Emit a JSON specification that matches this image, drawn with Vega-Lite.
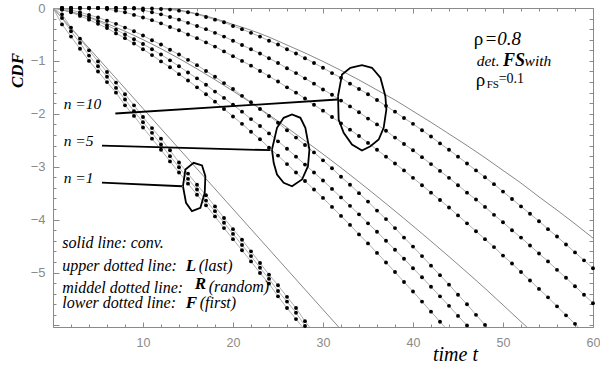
{
"$schema":"https://vega.github.io/schema/vega-lite/v6.json",
"width":540,"height":319,
"autosize":{"type":"none"},
"padding":{"left":53,"top":8,"right":7,"bottom":39},
"background":"white",
"config":{"view":{"stroke":null},"axis":{"grid":false,"domainColor":"#8a8a8a","tickColor":"#8a8a8a","labelColor":"#8a8a8a","labelFont":"Liberation Sans","labelFontSize":12,"domainWidth":1,"tickWidth":1,"labelOverlap":false}},
"datasets":{
"dots":[
{"c":"L10","t":0,"v":0},{"c":"L10","t":1,"v":0},{"c":"L10","t":2,"v":0},{"c":"L10","t":3,"v":0},{"c":"L10","t":4,"v":0},{"c":"L10","t":5,"v":0},{"c":"L10","t":6,"v":0},{"c":"L10","t":7,"v":0},{"c":"L10","t":8,"v":0},{"c":"L10","t":9,"v":0},{"c":"L10","t":10,"v":-0.01},{"c":"L10","t":11,"v":-0.01},{"c":"L10","t":12,"v":-0.02},{"c":"L10","t":13,"v":-0.03},{"c":"L10","t":14,"v":-0.05},{"c":"L10","t":15,"v":-0.08},{"c":"L10","t":16,"v":-0.12},{"c":"L10","t":17,"v":-0.17},{"c":"L10","t":18,"v":-0.22},{"c":"L10","t":19,"v":-0.27},{"c":"L10","t":20,"v":-0.34},{"c":"L10","t":21,"v":-0.40},{"c":"L10","t":22,"v":-0.47},{"c":"L10","t":23,"v":-0.54},{"c":"L10","t":24,"v":-0.62},{"c":"L10","t":25,"v":-0.69},{"c":"L10","t":26,"v":-0.78},{"c":"L10","t":27,"v":-0.86},{"c":"L10","t":28,"v":-0.95},{"c":"L10","t":29,"v":-1.04},{"c":"L10","t":30,"v":-1.13},{"c":"L10","t":31,"v":-1.23},{"c":"L10","t":32,"v":-1.32},{"c":"L10","t":33,"v":-1.43},{"c":"L10","t":34,"v":-1.53},{"c":"L10","t":35,"v":-1.63},{"c":"L10","t":36,"v":-1.74},{"c":"L10","t":37,"v":-1.85},{"c":"L10","t":38,"v":-1.96},{"c":"L10","t":39,"v":-2.08},{"c":"L10","t":40,"v":-2.19},{"c":"L10","t":41,"v":-2.31},{"c":"L10","t":42,"v":-2.43},{"c":"L10","t":43,"v":-2.56},{"c":"L10","t":44,"v":-2.68},{"c":"L10","t":45,"v":-2.81},{"c":"L10","t":46,"v":-2.94},{"c":"L10","t":47,"v":-3.07},{"c":"L10","t":48,"v":-3.20},{"c":"L10","t":49,"v":-3.33},{"c":"L10","t":50,"v":-3.47},{"c":"L10","t":51,"v":-3.61},{"c":"L10","t":52,"v":-3.75},{"c":"L10","t":53,"v":-3.89},{"c":"L10","t":54,"v":-4.03},{"c":"L10","t":55,"v":-4.18},{"c":"L10","t":56,"v":-4.32},{"c":"L10","t":57,"v":-4.47},{"c":"L10","t":58,"v":-4.62},{"c":"L10","t":59,"v":-4.77},{"c":"L10","t":60,"v":-4.92},
{"c":"R10","t":0,"v":0},{"c":"R10","t":1,"v":0},{"c":"R10","t":2,"v":0},{"c":"R10","t":3,"v":0},{"c":"R10","t":4,"v":0},{"c":"R10","t":5,"v":0},{"c":"R10","t":6,"v":0},{"c":"R10","t":7,"v":0},{"c":"R10","t":8,"v":0},{"c":"R10","t":9,"v":-0.01},{"c":"R10","t":10,"v":-0.04},{"c":"R10","t":11,"v":-0.08},{"c":"R10","t":12,"v":-0.12},{"c":"R10","t":13,"v":-0.17},{"c":"R10","t":14,"v":-0.22},{"c":"R10","t":15,"v":-0.28},{"c":"R10","t":16,"v":-0.34},{"c":"R10","t":17,"v":-0.40},{"c":"R10","t":18,"v":-0.47},{"c":"R10","t":19,"v":-0.54},{"c":"R10","t":20,"v":-0.62},{"c":"R10","t":21,"v":-0.70},{"c":"R10","t":22,"v":-0.78},{"c":"R10","t":23,"v":-0.86},{"c":"R10","t":24,"v":-0.95},{"c":"R10","t":25,"v":-1.04},{"c":"R10","t":26,"v":-1.14},{"c":"R10","t":27,"v":-1.23},{"c":"R10","t":28,"v":-1.33},{"c":"R10","t":29,"v":-1.43},{"c":"R10","t":30,"v":-1.54},{"c":"R10","t":31,"v":-1.64},{"c":"R10","t":32,"v":-1.75},{"c":"R10","t":33,"v":-1.86},{"c":"R10","t":34,"v":-1.97},{"c":"R10","t":35,"v":-2.09},{"c":"R10","t":36,"v":-2.20},{"c":"R10","t":37,"v":-2.32},{"c":"R10","t":38,"v":-2.45},{"c":"R10","t":39,"v":-2.57},{"c":"R10","t":40,"v":-2.69},{"c":"R10","t":41,"v":-2.82},{"c":"R10","t":42,"v":-2.95},{"c":"R10","t":43,"v":-3.08},{"c":"R10","t":44,"v":-3.21},{"c":"R10","t":45,"v":-3.35},{"c":"R10","t":46,"v":-3.49},{"c":"R10","t":47,"v":-3.62},{"c":"R10","t":48,"v":-3.76},{"c":"R10","t":49,"v":-3.91},{"c":"R10","t":50,"v":-4.05},{"c":"R10","t":51,"v":-4.20},{"c":"R10","t":52,"v":-4.34},{"c":"R10","t":53,"v":-4.49},{"c":"R10","t":54,"v":-4.64},{"c":"R10","t":55,"v":-4.79},{"c":"R10","t":56,"v":-4.95},{"c":"R10","t":57,"v":-5.10},{"c":"R10","t":58,"v":-5.26},{"c":"R10","t":59,"v":-5.42},{"c":"R10","t":60,"v":-5.58},
{"c":"F10","t":0,"v":0},{"c":"F10","t":1,"v":0},{"c":"F10","t":2,"v":0},{"c":"F10","t":3,"v":0},{"c":"F10","t":4,"v":0},{"c":"F10","t":5,"v":0},{"c":"F10","t":6,"v":-0.02},{"c":"F10","t":7,"v":-0.05},{"c":"F10","t":8,"v":-0.08},{"c":"F10","t":9,"v":-0.13},{"c":"F10","t":10,"v":-0.18},{"c":"F10","t":11,"v":-0.23},{"c":"F10","t":12,"v":-0.29},{"c":"F10","t":13,"v":-0.36},{"c":"F10","t":14,"v":-0.42},{"c":"F10","t":15,"v":-0.50},{"c":"F10","t":16,"v":-0.57},{"c":"F10","t":17,"v":-0.65},{"c":"F10","t":18,"v":-0.73},{"c":"F10","t":19,"v":-0.82},{"c":"F10","t":20,"v":-0.91},{"c":"F10","t":21,"v":-1.00},{"c":"F10","t":22,"v":-1.09},{"c":"F10","t":23,"v":-1.19},{"c":"F10","t":24,"v":-1.29},{"c":"F10","t":25,"v":-1.39},{"c":"F10","t":26,"v":-1.50},{"c":"F10","t":27,"v":-1.60},{"c":"F10","t":28,"v":-1.71},{"c":"F10","t":29,"v":-1.83},{"c":"F10","t":30,"v":-1.94},{"c":"F10","t":31,"v":-2.06},{"c":"F10","t":32,"v":-2.18},{"c":"F10","t":33,"v":-2.30},{"c":"F10","t":34,"v":-2.42},{"c":"F10","t":35,"v":-2.55},{"c":"F10","t":36,"v":-2.68},{"c":"F10","t":37,"v":-2.81},{"c":"F10","t":38,"v":-2.94},{"c":"F10","t":39,"v":-3.07},{"c":"F10","t":40,"v":-3.21},{"c":"F10","t":41,"v":-3.35},{"c":"F10","t":42,"v":-3.49},{"c":"F10","t":43,"v":-3.63},{"c":"F10","t":44,"v":-3.77},{"c":"F10","t":45,"v":-3.92},{"c":"F10","t":46,"v":-4.07},{"c":"F10","t":47,"v":-4.22},{"c":"F10","t":48,"v":-4.37},{"c":"F10","t":49,"v":-4.52},{"c":"F10","t":50,"v":-4.68},{"c":"F10","t":51,"v":-4.83},{"c":"F10","t":52,"v":-4.99},{"c":"F10","t":53,"v":-5.15},{"c":"F10","t":54,"v":-5.31},{"c":"F10","t":55,"v":-5.47},{"c":"F10","t":56,"v":-5.64},{"c":"F10","t":57,"v":-5.81},{"c":"F10","t":58,"v":-5.97},{"c":"F10","t":59,"v":-6.14},
{"c":"L5","t":0,"v":0},{"c":"L5","t":1,"v":-0.01},{"c":"L5","t":2,"v":-0.04},{"c":"L5","t":3,"v":-0.08},{"c":"L5","t":4,"v":-0.13},{"c":"L5","t":5,"v":-0.18},{"c":"L5","t":6,"v":-0.24},{"c":"L5","t":7,"v":-0.30},{"c":"L5","t":8,"v":-0.37},{"c":"L5","t":9,"v":-0.44},{"c":"L5","t":10,"v":-0.52},{"c":"L5","t":11,"v":-0.61},{"c":"L5","t":12,"v":-0.69},{"c":"L5","t":13,"v":-0.79},{"c":"L5","t":14,"v":-0.88},{"c":"L5","t":15,"v":-0.98},{"c":"L5","t":16,"v":-1.08},{"c":"L5","t":17,"v":-1.19},{"c":"L5","t":18,"v":-1.30},{"c":"L5","t":19,"v":-1.42},{"c":"L5","t":20,"v":-1.53},{"c":"L5","t":21,"v":-1.66},{"c":"L5","t":22,"v":-1.78},{"c":"L5","t":23,"v":-1.91},{"c":"L5","t":24,"v":-2.04},{"c":"L5","t":25,"v":-2.17},{"c":"L5","t":26,"v":-2.31},{"c":"L5","t":27,"v":-2.45},{"c":"L5","t":28,"v":-2.59},{"c":"L5","t":29,"v":-2.73},{"c":"L5","t":30,"v":-2.88},{"c":"L5","t":31,"v":-3.03},{"c":"L5","t":32,"v":-3.19},{"c":"L5","t":33,"v":-3.34},{"c":"L5","t":34,"v":-3.50},{"c":"L5","t":35,"v":-3.66},{"c":"L5","t":36,"v":-3.83},{"c":"L5","t":37,"v":-3.99},{"c":"L5","t":38,"v":-4.16},{"c":"L5","t":39,"v":-4.34},{"c":"L5","t":40,"v":-4.51},{"c":"L5","t":41,"v":-4.69},{"c":"L5","t":42,"v":-4.87},{"c":"L5","t":43,"v":-5.05},{"c":"L5","t":44,"v":-5.23},{"c":"L5","t":45,"v":-5.42},{"c":"L5","t":46,"v":-5.60},{"c":"L5","t":47,"v":-5.80},{"c":"L5","t":48,"v":-5.99},{"c":"L5","t":49,"v":-6.18},
{"c":"R5","t":0,"v":0},{"c":"R5","t":1,"v":-0.03},{"c":"R5","t":2,"v":-0.07},{"c":"R5","t":3,"v":-0.12},{"c":"R5","t":4,"v":-0.18},{"c":"R5","t":5,"v":-0.25},{"c":"R5","t":6,"v":-0.33},{"c":"R5","t":7,"v":-0.41},{"c":"R5","t":8,"v":-0.50},{"c":"R5","t":9,"v":-0.59},{"c":"R5","t":10,"v":-0.68},{"c":"R5","t":11,"v":-0.78},{"c":"R5","t":12,"v":-0.88},{"c":"R5","t":13,"v":-0.99},{"c":"R5","t":14,"v":-1.10},{"c":"R5","t":15,"v":-1.22},{"c":"R5","t":16,"v":-1.33},{"c":"R5","t":17,"v":-1.45},{"c":"R5","t":18,"v":-1.58},{"c":"R5","t":19,"v":-1.70},{"c":"R5","t":20,"v":-1.83},{"c":"R5","t":21,"v":-1.96},{"c":"R5","t":22,"v":-2.10},{"c":"R5","t":23,"v":-2.23},{"c":"R5","t":24,"v":-2.37},{"c":"R5","t":25,"v":-2.52},{"c":"R5","t":26,"v":-2.66},{"c":"R5","t":27,"v":-2.81},{"c":"R5","t":28,"v":-2.96},{"c":"R5","t":29,"v":-3.11},{"c":"R5","t":30,"v":-3.26},{"c":"R5","t":31,"v":-3.42},{"c":"R5","t":32,"v":-3.58},{"c":"R5","t":33,"v":-3.74},{"c":"R5","t":34,"v":-3.90},{"c":"R5","t":35,"v":-4.07},{"c":"R5","t":36,"v":-4.23},{"c":"R5","t":37,"v":-4.40},{"c":"R5","t":38,"v":-4.57},{"c":"R5","t":39,"v":-4.74},{"c":"R5","t":40,"v":-4.92},{"c":"R5","t":41,"v":-5.09},{"c":"R5","t":42,"v":-5.27},{"c":"R5","t":43,"v":-5.45},{"c":"R5","t":44,"v":-5.63},{"c":"R5","t":45,"v":-5.82},{"c":"R5","t":46,"v":-6.00},{"c":"R5","t":47,"v":-6.19},
{"c":"F5","t":0,"v":0},{"c":"F5","t":1,"v":-0.03},{"c":"F5","t":2,"v":-0.08},{"c":"F5","t":3,"v":-0.15},{"c":"F5","t":4,"v":-0.22},{"c":"F5","t":5,"v":-0.30},{"c":"F5","t":6,"v":-0.38},{"c":"F5","t":7,"v":-0.48},{"c":"F5","t":8,"v":-0.57},{"c":"F5","t":9,"v":-0.67},{"c":"F5","t":10,"v":-0.78},{"c":"F5","t":11,"v":-0.89},{"c":"F5","t":12,"v":-1.01},{"c":"F5","t":13,"v":-1.12},{"c":"F5","t":14,"v":-1.25},{"c":"F5","t":15,"v":-1.37},{"c":"F5","t":16,"v":-1.50},{"c":"F5","t":17,"v":-1.63},{"c":"F5","t":18,"v":-1.77},{"c":"F5","t":19,"v":-1.91},{"c":"F5","t":20,"v":-2.05},{"c":"F5","t":21,"v":-2.19},{"c":"F5","t":22,"v":-2.34},{"c":"F5","t":23,"v":-2.48},{"c":"F5","t":24,"v":-2.64},{"c":"F5","t":25,"v":-2.79},{"c":"F5","t":26,"v":-2.95},{"c":"F5","t":27,"v":-3.11},{"c":"F5","t":28,"v":-3.27},{"c":"F5","t":29,"v":-3.43},{"c":"F5","t":30,"v":-3.59},{"c":"F5","t":31,"v":-3.76},{"c":"F5","t":32,"v":-3.93},{"c":"F5","t":33,"v":-4.10},{"c":"F5","t":34,"v":-4.28},{"c":"F5","t":35,"v":-4.45},{"c":"F5","t":36,"v":-4.63},{"c":"F5","t":37,"v":-4.81},{"c":"F5","t":38,"v":-4.99},{"c":"F5","t":39,"v":-5.18},{"c":"F5","t":40,"v":-5.36},{"c":"F5","t":41,"v":-5.55},{"c":"F5","t":42,"v":-5.74},{"c":"F5","t":43,"v":-5.93},{"c":"F5","t":44,"v":-6.12},
{"c":"L1","t":0,"v":0},{"c":"L1","t":1,"v":-0.12},{"c":"L1","t":2,"v":-0.37},{"c":"L1","t":3,"v":-0.58},{"c":"L1","t":4,"v":-0.80},{"c":"L1","t":5,"v":-1.01},{"c":"L1","t":6,"v":-1.21},{"c":"L1","t":7,"v":-1.41},{"c":"L1","t":8,"v":-1.63},{"c":"L1","t":9,"v":-1.84},{"c":"L1","t":10,"v":-2.06},{"c":"L1","t":11,"v":-2.27},{"c":"L1","t":12,"v":-2.47},{"c":"L1","t":13,"v":-2.69},{"c":"L1","t":14,"v":-2.92},{"c":"L1","t":15,"v":-3.13},{"c":"L1","t":16,"v":-3.34},{"c":"L1","t":17,"v":-3.54},{"c":"L1","t":18,"v":-3.75},{"c":"L1","t":19,"v":-3.97},{"c":"L1","t":20,"v":-4.18},{"c":"L1","t":21,"v":-4.38},{"c":"L1","t":22,"v":-4.60},{"c":"L1","t":23,"v":-4.82},{"c":"L1","t":24,"v":-5.04},{"c":"L1","t":25,"v":-5.24},{"c":"L1","t":26,"v":-5.46},{"c":"L1","t":27,"v":-5.67},{"c":"L1","t":28,"v":-5.92},{"c":"L1","t":29,"v":-6.14},
{"c":"R1","t":0,"v":0},{"c":"R1","t":1,"v":-0.19},{"c":"R1","t":2,"v":-0.44},{"c":"R1","t":3,"v":-0.66},{"c":"R1","t":4,"v":-0.90},{"c":"R1","t":5,"v":-1.10},{"c":"R1","t":6,"v":-1.30},{"c":"R1","t":7,"v":-1.51},{"c":"R1","t":8,"v":-1.73},{"c":"R1","t":9,"v":-1.95},{"c":"R1","t":10,"v":-2.16},{"c":"R1","t":11,"v":-2.36},{"c":"R1","t":12,"v":-2.58},{"c":"R1","t":13,"v":-2.80},{"c":"R1","t":14,"v":-3.01},{"c":"R1","t":15,"v":-3.23},{"c":"R1","t":16,"v":-3.43},{"c":"R1","t":17,"v":-3.64},{"c":"R1","t":18,"v":-3.84},{"c":"R1","t":19,"v":-4.06},{"c":"R1","t":20,"v":-4.27},{"c":"R1","t":21,"v":-4.48},{"c":"R1","t":22,"v":-4.69},{"c":"R1","t":23,"v":-4.91},{"c":"R1","t":24,"v":-5.12},{"c":"R1","t":25,"v":-5.35},{"c":"R1","t":26,"v":-5.55},{"c":"R1","t":27,"v":-5.76},{"c":"R1","t":28,"v":-6.01},{"c":"R1","t":29,"v":-6.22},
{"c":"F1","t":0,"v":0},{"c":"F1","t":1,"v":-0.31},{"c":"F1","t":2,"v":-0.54},{"c":"F1","t":3,"v":-0.77},{"c":"F1","t":4,"v":-1.00},{"c":"F1","t":5,"v":-1.20},{"c":"F1","t":6,"v":-1.40},{"c":"F1","t":7,"v":-1.60},{"c":"F1","t":8,"v":-1.84},{"c":"F1","t":9,"v":-2.04},{"c":"F1","t":10,"v":-2.26},{"c":"F1","t":11,"v":-2.47},{"c":"F1","t":12,"v":-2.68},{"c":"F1","t":13,"v":-2.90},{"c":"F1","t":14,"v":-3.11},{"c":"F1","t":15,"v":-3.32},{"c":"F1","t":16,"v":-3.53},{"c":"F1","t":17,"v":-3.73},{"c":"F1","t":18,"v":-3.94},{"c":"F1","t":19,"v":-4.16},{"c":"F1","t":20,"v":-4.37},{"c":"F1","t":21,"v":-4.58},{"c":"F1","t":22,"v":-4.79},{"c":"F1","t":23,"v":-5.01},{"c":"F1","t":24,"v":-5.21},{"c":"F1","t":25,"v":-5.45},{"c":"F1","t":26,"v":-5.67},{"c":"F1","t":27,"v":-5.88},{"c":"F1","t":28,"v":-6.09}
],
"conv":[
{"c":"c10","t":0,"v":0},{"c":"c10","t":10,"v":0},{"c":"c10","t":12,"v":0},{"c":"c10","t":14,"v":-0.04},{"c":"c10","t":16,"v":-0.11},{"c":"c10","t":18,"v":-0.20},{"c":"c10","t":20,"v":-0.31},{"c":"c10","t":22,"v":-0.42},{"c":"c10","t":24,"v":-0.55},{"c":"c10","t":26,"v":-0.70},{"c":"c10","t":28,"v":-0.85},{"c":"c10","t":30,"v":-1.01},{"c":"c10","t":32,"v":-1.18},{"c":"c10","t":34,"v":-1.36},{"c":"c10","t":36,"v":-1.55},{"c":"c10","t":38,"v":-1.74},{"c":"c10","t":40,"v":-1.95},{"c":"c10","t":42,"v":-2.16},{"c":"c10","t":44,"v":-2.38},{"c":"c10","t":46,"v":-2.60},{"c":"c10","t":48,"v":-2.83},{"c":"c10","t":50,"v":-3.07},{"c":"c10","t":52,"v":-3.31},{"c":"c10","t":54,"v":-3.57},{"c":"c10","t":56,"v":-3.82},{"c":"c10","t":58,"v":-4.08},{"c":"c10","t":60,"v":-4.35},
{"c":"c5","t":0,"v":0},{"c":"c5","t":4,"v":-0.17},{"c":"c5","t":8,"v":-0.44},{"c":"c5","t":12,"v":-0.77},{"c":"c5","t":16,"v":-1.15},{"c":"c5","t":20,"v":-1.57},{"c":"c5","t":24,"v":-2.02},{"c":"c5","t":28,"v":-2.51},{"c":"c5","t":32,"v":-3.02},{"c":"c5","t":36,"v":-3.56},{"c":"c5","t":40,"v":-4.12},{"c":"c5","t":44,"v":-4.70},{"c":"c5","t":48,"v":-5.30},{"c":"c5","t":52,"v":-5.93},{"c":"c5","t":54,"v":-6.24},
{"c":"c1","t":0,"v":0},{"c":"c1","t":10,"v":-1.9},{"c":"c1","t":20,"v":-3.8},{"c":"c1","t":33,"v":-6.27}
],
"shapes":[
{"s":"e10","i":0,"t":31.67,"v":-1.667},{"s":"e10","i":1,"t":32.11,"v":-1.257},{"s":"e10","i":2,"t":33.04,"v":-1.13},{"s":"e10","i":3,"t":34.33,"v":-1.081},{"s":"e10","i":4,"t":35.44,"v":-1.13},{"s":"e10","i":5,"t":36.38,"v":-1.319},{"s":"e10","i":6,"t":36.93,"v":-1.667},{"s":"e10","i":7,"t":37.04,"v":-1.919},{"s":"e10","i":8,"t":36.74,"v":-2.265},{"s":"e10","i":9,"t":36.19,"v":-2.486},{"s":"e10","i":10,"t":35.27,"v":-2.612},{"s":"e10","i":11,"t":34.33,"v":-2.694},{"s":"e10","i":12,"t":33.22,"v":-2.58},{"s":"e10","i":13,"t":32.3,"v":-2.359},{"s":"e10","i":14,"t":31.74,"v":-2.108},{"s":"e10","i":15,"t":31.67,"v":-1.667},
{"s":"l10","i":0,"t":6.93,"v":-1.994},{"s":"l10","i":1,"t":31.63,"v":-1.73},
{"s":"e5","i":0,"t":24.33,"v":-2.675},{"s":"e5","i":1,"t":24.89,"v":-2.265},{"s":"e5","i":2,"t":25.63,"v":-2.076},{"s":"e5","i":3,"t":26.56,"v":-2.013},{"s":"e5","i":4,"t":27.49,"v":-2.076},{"s":"e5","i":5,"t":28.04,"v":-2.265},{"s":"e5","i":6,"t":28.49,"v":-2.675},{"s":"e5","i":7,"t":28.33,"v":-2.991},{"s":"e5","i":8,"t":27.67,"v":-3.242},{"s":"e5","i":9,"t":26.56,"v":-3.369},{"s":"e5","i":10,"t":25.63,"v":-3.304},{"s":"e5","i":11,"t":24.89,"v":-3.147},{"s":"e5","i":12,"t":24.52,"v":-2.926},{"s":"e5","i":13,"t":24.33,"v":-2.675},
{"s":"l5","i":0,"t":5.44,"v":-2.6},{"s":"l5","i":1,"t":24.16,"v":-2.688},
{"s":"e1","i":0,"t":14.44,"v":-3.369},{"s":"e1","i":1,"t":14.71,"v":-3.053},{"s":"e1","i":2,"t":15.63,"v":-2.926},{"s":"e1","i":3,"t":16.56,"v":-2.977},{"s":"e1","i":4,"t":16.93,"v":-3.18},{"s":"e1","i":5,"t":16.86,"v":-3.493},{"s":"e1","i":6,"t":16.38,"v":-3.777},{"s":"e1","i":7,"t":15.44,"v":-3.841},{"s":"e1","i":8,"t":14.78,"v":-3.682},{"s":"e1","i":9,"t":14.44,"v":-3.369},
{"s":"l1","i":0,"t":5.44,"v":-3.3},{"s":"l1","i":1,"t":14.33,"v":-3.369}
]
},
"encoding":{
"x":{"field":"t","type":"quantitative","scale":{"domain":[0,60],"nice":false,"zero":false},"axis":null},
"y":{"field":"v","type":"quantitative","scale":{"domain":[-6.03,0],"nice":false,"zero":false},"axis":null}
},
"resolve":{"axis":{"x":"independent","y":"independent"}},
"layer":[
{"data":{"name":"conv"},
 "mark":{"type":"line","color":"#7a7a7a","strokeWidth":0.9,"interpolate":"monotone","clip":true},
 "encoding":{
  "x":{"field":"t","type":"quantitative","scale":{"domain":[0,60],"nice":false,"zero":false},
   "axis":{"orient":"bottom","values":[0,2,4,6,8,10,12,14,16,18,20,22,24,26,28,30,32,34,36,38,40,42,44,46,48,50,52,54,56,58,60],"format":"d","labelExpr":"datum.value % 10 === 0 && datum.value > 0 ? datum.label : ''","tickSize":{"condition":{"test":"datum.value % 10 === 0","value":-5},"value":-3},"labelPadding":14,"labelFontSize":12.5,"labelFlush":false,
   "title":"time t","titleFont":"Liberation Serif","titleFontStyle":"italic","titleFontWeight":"normal","titleFontSize":20,"titleColor":"black","titleX":402,"titleY":33,"titleBaseline":"alphabetic","titleAlign":"center"}},
  "y":{"field":"v","type":"quantitative","scale":{"domain":[-6.03,0],"nice":false,"zero":false},
   "axis":{"orient":"left","values":[0,-0.2,-0.4,-0.6,-0.8,-1,-1.2,-1.4,-1.6,-1.8,-2,-2.2,-2.4,-2.6,-2.8,-3,-3.2,-3.4,-3.6,-3.8,-4,-4.2,-4.4,-4.6,-4.8,-5,-5.2,-5.4,-5.6,-5.8,-6],"format":".1f","labelExpr":"(datum.value == 0 || datum.value == -1 || datum.value == -2 || datum.value == -3 || datum.value == -4 || datum.value == -5) ? replace(format(datum.value, 'd'), '-', '\u2212') : ''","tickSize":{"condition":{"test":"datum.value == 0 || datum.value == -1 || datum.value == -2 || datum.value == -3 || datum.value == -4 || datum.value == -5 || datum.value == -6","value":-6},"value":-3},"labelPadding":14,"labelFontSize":13,"labelAlign":"right","labelBaseline":"middle",
   "title":"CDF","titleFont":"Liberation Serif","titleFontStyle":"italic","titleFontWeight":"bold","titleFontSize":17,"titleColor":"black","titleAngle":-90,"titleX":-31,"titleY":62,"titleBaseline":"alphabetic","titleAlign":"center"}},
  "detail":{"field":"c"}}},
{"data":{"name":"dots"},
 "mark":{"type":"line","color":"#9a9a9a","strokeWidth":0.8,"clip":true},
 "encoding":{
  "x":{"field":"t","type":"quantitative","scale":{"domain":[0,60],"nice":false,"zero":false},
   "axis":{"orient":"top","values":[0,2,4,6,8,10,12,14,16,18,20,22,24,26,28,30,32,34,36,38,40,42,44,46,48,50,52,54,56,58,60],"labels":false,"title":null,"tickSize":{"condition":{"test":"datum.value % 10 === 0","value":-5},"value":-3}}},
  "y":{"field":"v","type":"quantitative","scale":{"domain":[-6.03,0],"nice":false,"zero":false},
   "axis":{"orient":"right","values":[0,-0.2,-0.4,-0.6,-0.8,-1,-1.2,-1.4,-1.6,-1.8,-2,-2.2,-2.4,-2.6,-2.8,-3,-3.2,-3.4,-3.6,-3.8,-4,-4.2,-4.4,-4.6,-4.8,-5,-5.2,-5.4,-5.6,-5.8,-6],"labels":false,"title":null,"tickSize":-4}},
  "detail":{"field":"c"}}},
{"data":{"name":"dots"},
 "transform":[{"filter":"datum.t > 0 && datum.v >= -6.03"}],
 "mark":{"type":"point","filled":true,"color":"black","opacity":1,"size":15,"clip":false},
 "encoding":{}},
{"data":{"name":"shapes"},
 "mark":{"type":"line","color":"black","strokeWidth":1.8,"clip":false},
 "encoding":{"detail":{"field":"s"},"order":{"field":"i"}}},
{"data":{"values":[{"s":"n =10","t":1.19,"v":-1.9},{"s":"n =5","t":1.19,"v":-2.6},{"s":"n =1","t":1.19,"v":-3.3}]},
 "mark":{"type":"text","font":"Liberation Serif","fontStyle":"italic","fontSize":15.5,"color":"black","align":"left","baseline":"alphabetic"},
 "encoding":{"text":{"field":"s"}}},
{"data":{"values":[{"s":"solid line: conv.","t":1.03,"v":-4.53},{"s":"upper dotted line:","t":1.03,"v":-4.97},{"s":"middel dotted line:","t":1.03,"v":-5.38},{"s":"lower dotted line:","t":1.03,"v":-5.67},{"s":"(last)","t":16.19,"v":-4.97},{"s":"(random)","t":17.3,"v":-5.36},{"s":"(first)","t":16.3,"v":-5.67}]},
 "mark":{"type":"text","font":"Liberation Serif","fontStyle":"italic","fontSize":16,"color":"black","align":"left","baseline":"alphabetic"},
 "encoding":{"text":{"field":"s"}}},
{"data":{"values":[{"s":"det.","t":47.08,"v":-1.1},{"s":"with","t":52.4,"v":-1.1}]},
 "mark":{"type":"text","font":"Liberation Serif","fontStyle":"italic","fontSize":15.5,"color":"black","align":"left","baseline":"alphabetic"},
 "encoding":{"text":{"field":"s"}}},
{"data":{"values":[{"s":"L","t":14.74,"v":-4.97},{"s":"R","t":15.74,"v":-5.32},{"s":"F","t":14.74,"v":-5.67}]},
 "mark":{"type":"text","font":"Liberation Serif","fontStyle":"italic","fontWeight":"bold","fontSize":17,"color":"black","align":"left","baseline":"alphabetic"},
 "encoding":{"text":{"field":"s"}}},
{"data":{"values":[{"s":"FS","t":50.0,"v":-1.1}]},
 "mark":{"type":"text","font":"Liberation Serif","fontStyle":"italic","fontWeight":"bold","fontSize":18,"color":"black","align":"left","baseline":"alphabetic"},
 "encoding":{"text":{"field":"s"}}},
{"data":{"values":[{"s":"ρ","t":46.74,"v":-0.69},{"s":"ρ","t":46.97,"v":-1.465}]},
 "mark":{"type":"text","font":"Liberation Serif","fontSize":19,"color":"black","align":"left","baseline":"alphabetic"},
 "encoding":{"text":{"field":"s"}}},
{"data":{"values":[{"s":"=0.8","t":47.95,"v":-0.69}]},
 "mark":{"type":"text","font":"Liberation Serif","fontStyle":"italic","fontSize":19,"color":"black","align":"left","baseline":"alphabetic"},
 "encoding":{"text":{"field":"s"}}},
{"data":{"values":[{"s":"=0.1","t":49.52,"v":-1.41}]},
 "mark":{"type":"text","font":"Liberation Serif","fontSize":14,"color":"black","align":"left","baseline":"alphabetic"},
 "encoding":{"text":{"field":"s"}}},
{"data":{"values":[{"s":"FS","t":48.19,"v":-1.52}]},
 "mark":{"type":"text","font":"Liberation Serif","fontSize":11,"color":"black","align":"left","baseline":"alphabetic"},
 "encoding":{"text":{"field":"s"}}}
]
}
